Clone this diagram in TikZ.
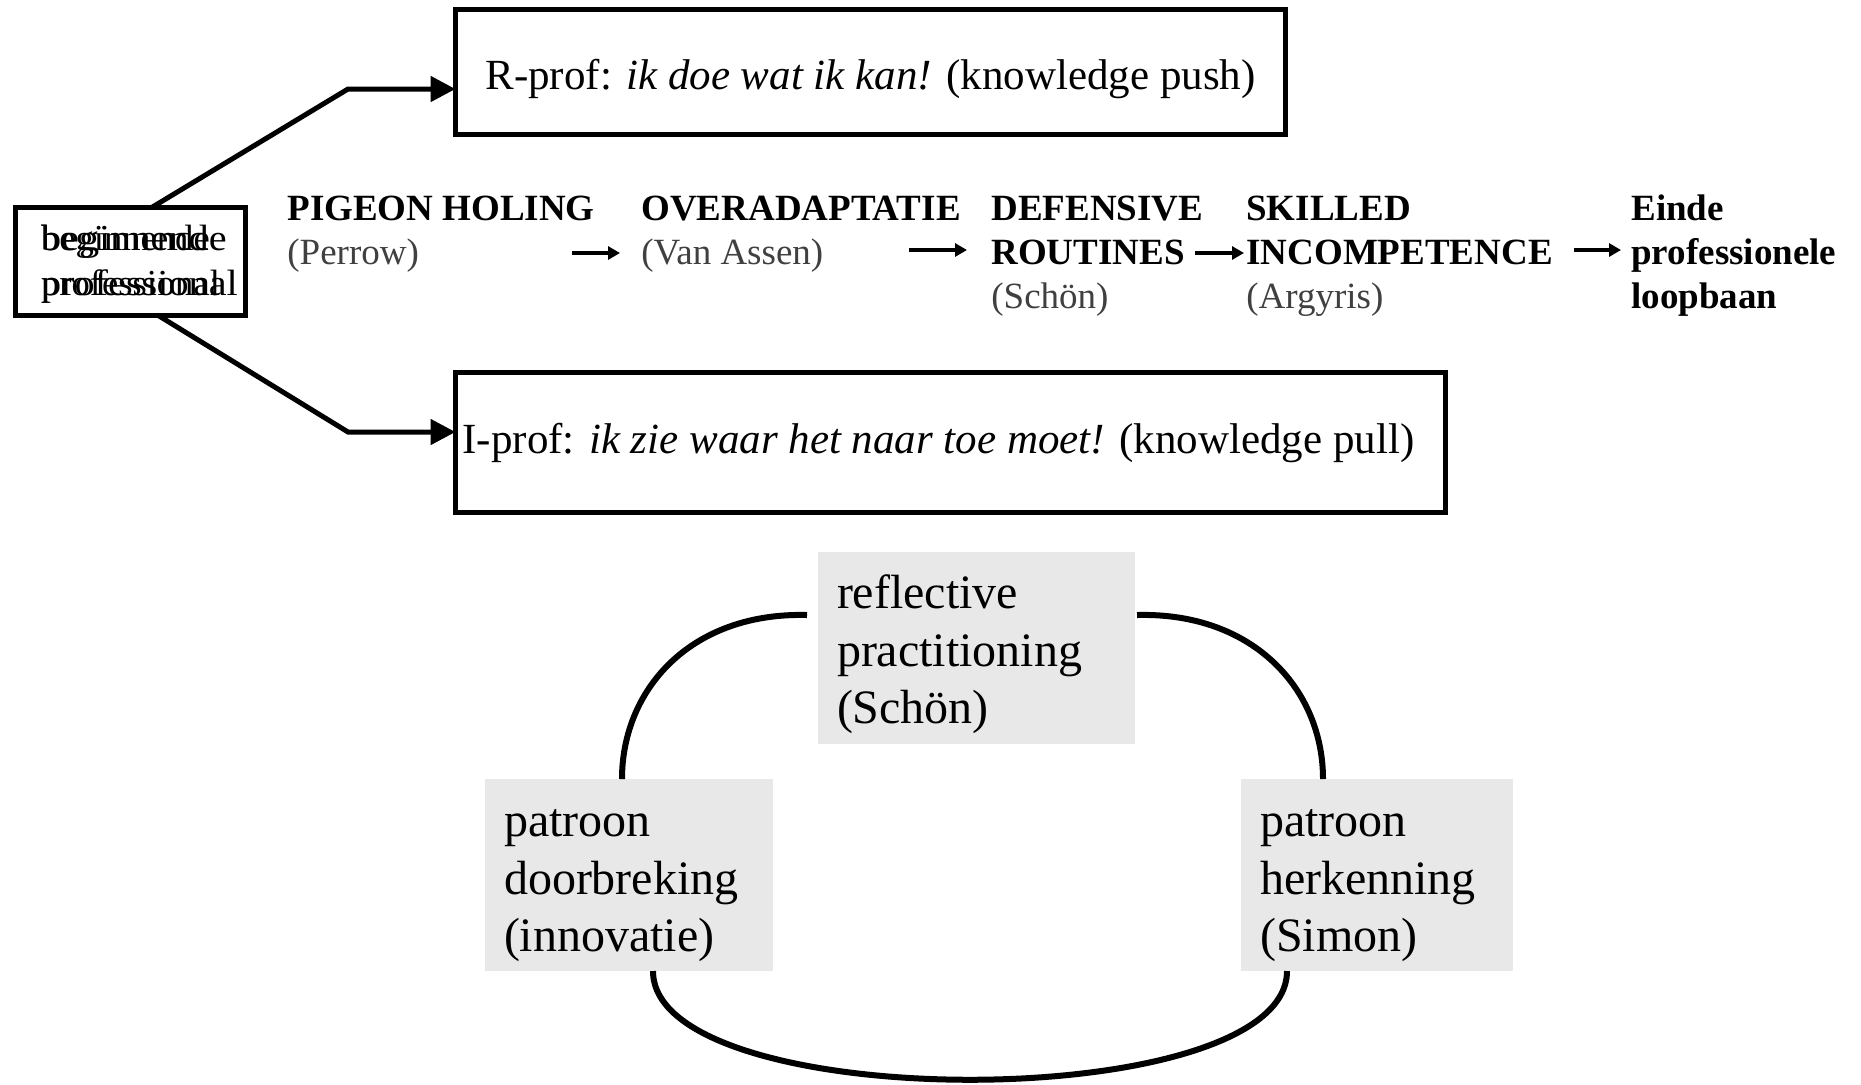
\documentclass[tikz,border=0pt]{standalone}
\usepackage{graphicx}
\usepackage{fontspec}
\setmainfont{Liberation Serif}
\usetikzlibrary{arrows.meta,calc}
\definecolor{authgray}{HTML}{404040}
\definecolor{boxgray}{HTML}{E8E8E8}
\begin{document}
\begin{tikzpicture}[x=0.5pt,y=-0.5pt,
  bigbox/.style={draw=black,line width=2.5pt,inner sep=0pt,outer sep=0pt},
  grayblock/.style={fill=boxgray,inner xsep=9.5pt,inner ysep=0pt,outer sep=0pt,align=left,font=\fontsize{24}{28.8}\selectfont},
  colhead/.style={anchor=base west,inner sep=0pt,font=\fontsize{18.5}{22}\selectfont},
  bigarrow/.style={line width=2.5pt,-{Triangle[length=12.5pt,width=12.5pt]}},
  smallarrow/.style={line width=1.75pt,-{Triangle[length=6pt,width=6.5pt]}},
  cyclecurve/.style={line width=3pt}
]
\useasboundingbox (0,0) rectangle (1861,1084);

% boxes
\node[bigbox,minimum width=415pt,minimum height=62.5pt,text height=22.8pt,text depth=4.7pt,font=\fontsize{21.5}{25}\selectfont] (rprof) at (870.5,71.75)
  {R-prof: {\itshape ik doe wat ik kan!} (knowledge push)};
\node[bigbox,minimum width=495pt,minimum height=70pt,font=\fontsize{21.5}{25}\selectfont] (iprof) at (950.5,442.5)
  {I-prof: {\itshape ik zie waar het naar toe moet!} (knowledge pull)\hspace*{12pt}};
\node[bigbox,minimum width=115pt,minimum height=54pt,align=left,font=\fontsize{18.3}{22.5}\selectfont] (beg) at (130.5,261)
  {\rule{0pt}{16pt}\rlap{\scalebox{1.1}[1]{beginnende}}beginnende\\\rlap{\scalebox{1.1}[1]{professional}}professional};

% connectors from beginner box
\coordinate (b1) at (348,89);
\coordinate (b2) at (348,432);
\draw[bigarrow] ($(beg.north west)+(137,0)$) -- (b1) -- (rprof.west |- b1);
\draw[bigarrow] ($(beg.south west)+(142,0)$) -- (b2) -- (iprof.west |- b2);

% middle row
\node[colhead] (pigeon) at (287,220) {\begin{tabular}[t]{@{}l@{}}\textbf{PIGEON HOLING}\\\textcolor{authgray}{(Perrow)}\end{tabular}};
\node[colhead] (overad) at (641,220) {\begin{tabular}[t]{@{}l@{}}\textbf{OVERADAPTATIE}\\\textcolor{authgray}{(Van Assen)}\end{tabular}};
\node[colhead] (defens) at (991,220) {\begin{tabular}[t]{@{}l@{}}\textbf{DEFENSIVE}\\\textbf{ROUTINES}\\\textcolor{authgray}{(Schön)}\end{tabular}};
\node[colhead] (skilled) at (1246,220) {\begin{tabular}[t]{@{}l@{}}\textbf{SKILLED}\\\textbf{INCOMPETENCE}\\\textcolor{authgray}{(Argyris)}\end{tabular}};
\node[colhead] (einde) at (1631,220) {\begin{tabular}[t]{@{}l@{}}\textbf{Einde}\\\textbf{professionele}\\\textbf{loopbaan}\end{tabular}};

\coordinate (a1s) at (572,253); \coordinate (a1e) at (620,253);
\coordinate (a2s) at (909,250); \coordinate (a2e) at (967,250);
\coordinate (a3s) at (1195,253); \coordinate (a3e) at (1244,253);
\coordinate (a4s) at (1574,250); \coordinate (a4e) at (1621,250);
\draw[smallarrow] (a1s) -- (a1e);
\draw[smallarrow] (a2s) -- (a2e);
\draw[smallarrow] (a3s) -- (a3e);
\draw[smallarrow] (a4s) -- (a4e);

% cycle
\node[grayblock,minimum width=158.5pt,minimum height=96pt,text width=139.5pt] (refl) at (976.5,648) {\rule{0pt}{23.4pt}reflective\\practitioning\\(Schön)};
\node[grayblock,minimum width=144pt,minimum height=96pt,text width=125pt] (doorb) at (629,875) {\rule{0pt}{24.4pt}patroon\\doorbreking\\(innovatie)};
\node[grayblock,minimum width=136pt,minimum height=96pt,text width=117pt] (herk) at (1377,875) {\rule{0pt}{24.4pt}patroon\\herkenning\\(Simon)};

\coordinate (cl1) at ($(refl.north west)+(-11,63)$);
\coordinate (cl2) at ($(doorb.north west)+(137,0)$);
\coordinate (cr1) at ($(refl.north east)+(2,63)$);
\coordinate (cr2) at ($(herk.north west)+(82,0)$);
\coordinate (cb1) at ($(doorb.south west)+(168,0)$);
\coordinate (cb2) at ($(herk.south west)+(46,0)$);
\draw[cyclecurve] (cl1) .. controls +(-117,-3) and +(0,-89) .. (cl2);
\draw[cyclecurve] (cr1) .. controls +(117,-3) and +(0,-89) .. (cr2);
\draw[cyclecurve] (cb1) .. controls +(0,145) and +(0,145) .. (cb2);
\end{tikzpicture}
\end{document}
